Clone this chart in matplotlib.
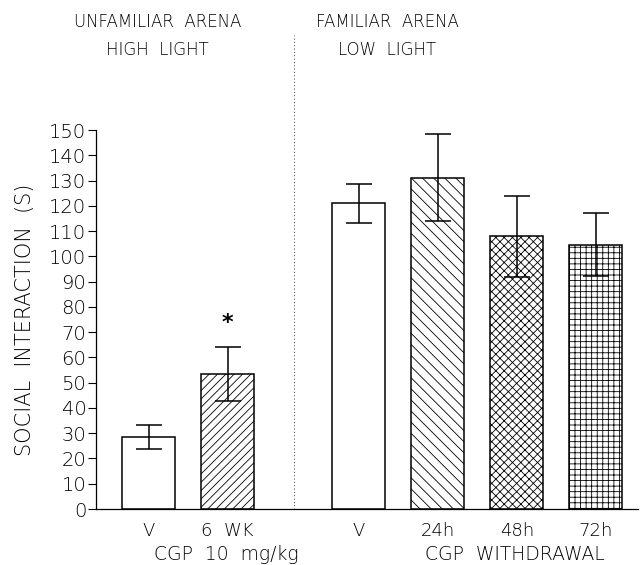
import matplotlib
matplotlib.use("Agg")
import matplotlib.pyplot as plt

# values
labels = ["V", "6  WK", "V", "24h", "48h", "72h"]
positions = [0, 1, 2.66, 3.66, 4.66, 5.66]
means = [28.6, 53.5, 121.0, 131.1, 107.9, 104.6]
errors = [4.8, 10.7, 7.8, 17.3, 16.1, 12.4]
hatches = ["", "////", "", "\\\\\\", "xxxx", "+++"]
group_labels = ["CGP  10  mg/kg", "CGP  WITHDRAWAL"]
group_pos = [0.99, 4.64]
panel_titles = ["UNFAMILIAR  ARENA\nHIGH  LIGHT", "FAMILIAR  ARENA\nLOW  LIGHT"]
panel_pos = [0.11, 3.02]
yticks = list(range(0, 151, 10))

plt.rcParams["hatch.linewidth"] = 0.6
plt.rcParams["font.family"] = "DejaVu Sans"
plt.rcParams["font.weight"] = 200
plt.rcParams["axes.labelweight"] = 200

fig = plt.figure(figsize=(6.4, 5.65), dpi=100)
ax = fig.add_axes([0.15, 0.0991, 0.847, 0.6708])

for x, m, e, h in zip(positions, means, errors, hatches):
    ax.bar(x, m, width=0.67, color="white", edgecolor="black",
           linewidth=1.1, hatch=h, zorder=2)
    ax.errorbar(x, m, yerr=e, fmt="none", ecolor="black",
                elinewidth=1.1, capsize=9.5, capthick=1.1, zorder=3)

# significance mark
ax.text(positions[1], 73.7, "*", ha="center", va="center", fontsize=16,
        fontweight="bold")

# dotted divider between the two experiments
ax.plot([1.842, 1.842], [0, 187.6], color="black", linestyle=(0, (1, 3)),
        linewidth=0.6, clip_on=False)

ax.set_xlim(-0.665, 6.195)
ax.set_ylim(0, 150)
ax.set_yticks(yticks)
ax.set_xticks(positions)
ax.set_xticklabels(labels)
ax.tick_params(axis="x", length=0, pad=9, labelsize=13)
ax.tick_params(axis="y", length=6, width=0.8, labelsize=14, pad=1)
ax.spines["top"].set_visible(False)
ax.spines["right"].set_visible(False)
ax.spines["left"].set_linewidth(0.9)
ax.spines["bottom"].set_linewidth(0.9)
ax.set_ylabel("SOCIAL  INTERACTION  (S)", fontsize=15, labelpad=10,
              fontweight=200)

for gx, gl in zip(group_pos, group_labels):
    ax.text(gx, -20.2, gl, ha="center", va="baseline", fontsize=13.5)

for px, pt in zip(panel_pos, panel_titles):
    ax.text(px, 187.2, pt, ha="center", va="center", fontsize=12,
            linespacing=1.75)

fig.savefig("out.png", dpi=100)
